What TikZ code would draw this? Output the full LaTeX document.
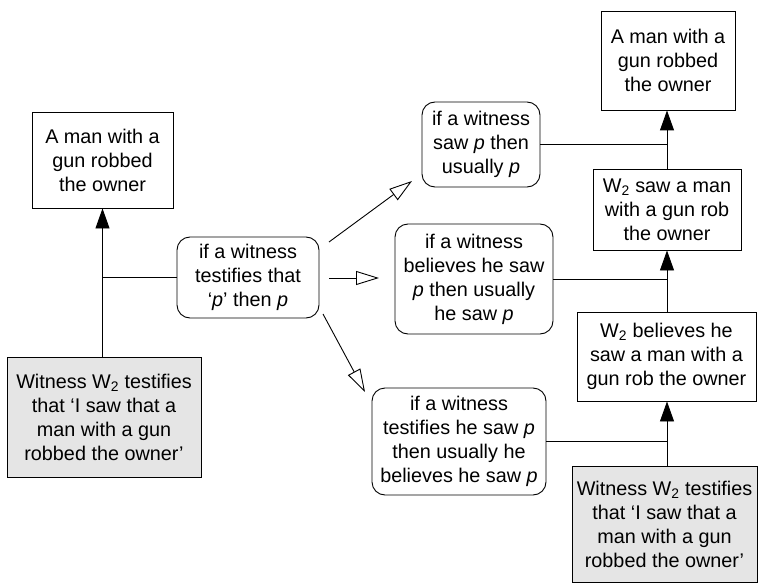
\documentclass[tikz,border=0pt]{standalone}
\usepackage{fontspec}
\setmainfont{Liberation Sans}
\usetikzlibrary{arrows.meta}
\begin{document}
\begin{tikzpicture}[x=1pt,y=-1pt,
  every node/.style={font=\fontsize{19.8}{24}\selectfont, align=center, inner sep=0pt},
  box/.style={draw, rectangle, line width=0.9pt},
  given/.style={box, fill=gray!20},
  rulebox/.style={draw, rectangle, rounded corners=13pt, line width=0.9pt},
  conn/.style={line width=0.9pt},
  solidarr/.style={conn, -{Triangle[width=14pt,length=20pt]}},
  openarr/.style={conn, -{Triangle[open,width=14pt,length=23pt,line width=0.9pt]}}]
\useasboundingbox (0,0) rectangle (758,583);

% left argument
\node[box, minimum width=141pt, minimum height=96pt] (L1) at (102.5,160)
  {A man with a\\gun robbed\\the owner};
\node[given, minimum width=194pt, minimum height=120pt] (LG) at (104,417)
  {Witness W\textsubscript{2} testifies\\that ‘I saw that a\\man with a gun\\robbed the owner’};
\node[rulebox, minimum width=142pt, minimum height=81pt] (R0) at (248,277.5)
  {if a witness\\testifies that\\‘\textit{p}’ then \textit{p}};

% right argument
\node[box, minimum width=134pt, minimum height=99pt] (T1) at (668,60.5)
  {A man with a\\gun robbed\\the owner};
\node[box, minimum width=148pt, minimum height=81pt] (T2) at (667,209.5)
  {W\textsubscript{2} saw a man\\with a gun rob\\the owner};
\node[box, minimum width=179pt, minimum height=89pt] (T3) at (666.5,356.5)
  {W\textsubscript{2} believes he\\saw a man with a\\gun rob the owner};
\node[given, minimum width=185pt, minimum height=116pt] (T4) at (664.5,524)
  {Witness W\textsubscript{2} testifies\\that ‘I saw that a\\man with a gun\\robbed the owner’};

\node[rulebox, minimum width=118pt, minimum height=85pt] (RA) at (481,144.5)
  {if a witness\\saw \textit{p} then\\usually \textit{p}};
\node[rulebox, minimum width=158pt, minimum height=110pt] (RB) at (474,279)
  {if a witness\\believes he saw\\\textit{p} then usually\\he saw \textit{p}};
\node[rulebox, minimum width=174pt, minimum height=107pt] (RC) at (459,441.5)
  {if a witness\\testifies he saw \textit{p}\\then usually he\\believes he saw \textit{p}};

% left connectors
\draw[solidarr] (L1.south |- LG.north) -- (L1.south);
\draw[conn] (R0.west) -- (R0.west -| L1.south);

% open arrows from the generic rule
\coordinate (a1s) at (329,242); \coordinate (a1e) at (412,181);
\coordinate (a2s) at (329,278); \coordinate (a2e) at (379,278);
\coordinate (a3s) at (323,314); \coordinate (a3e) at (365,392);
\draw[openarr] (a1s) -- (a1e);
\draw[openarr] (a2s) -- (a2e);
\draw[openarr] (a3s) -- (a3e);

% right connectors
\draw[solidarr] (T4.north -| T2.south) -- (T3.south -| T2.south);
\draw[solidarr] (T3.north -| T2.south) -- (T2.south);
\draw[solidarr] (T2.north) -- (T1.south -| T2.north);
\draw[conn] (RA.east) -- (RA.east -| T2.south);
\draw[conn] (RB.east) -- (RB.east -| T2.south);
\draw[conn] (RC.east) -- (RC.east -| T2.south);
\end{tikzpicture}
\end{document}
